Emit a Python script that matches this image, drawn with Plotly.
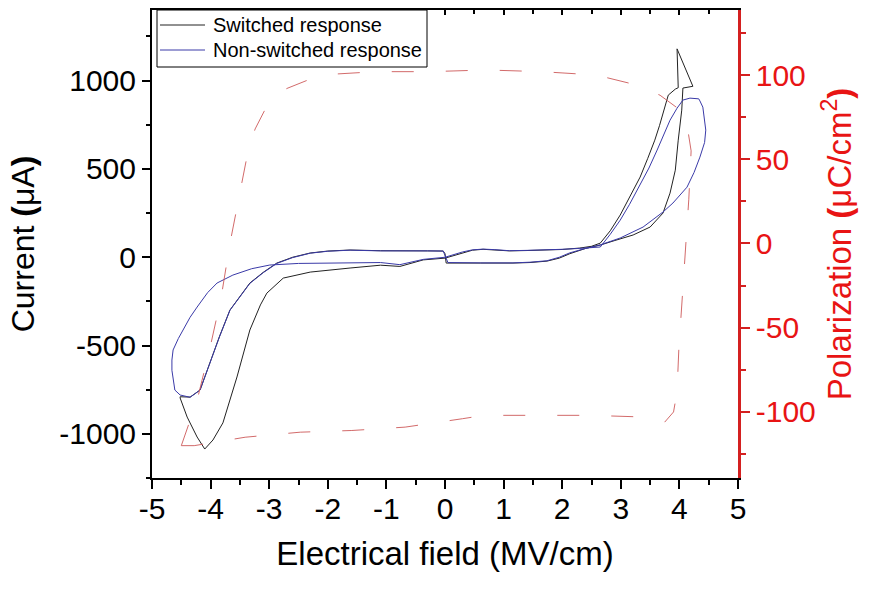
import plotly.graph_objects as go

# ---------------- data ----------------
# Switched response (black): E in MV/cm, I in uA
sw_E = [0.00, 0.10, 0.30, 0.47, 0.65, 0.85, 1.10, 1.40, 1.70, 2.00, 2.30, 2.50,
        2.65, 2.82, 2.99, 3.15, 3.33, 3.46, 3.58, 3.66, 3.72, 3.81, 3.93, 3.98,
        3.96, 4.23, 4.06,
        4.04, 3.98, 3.93, 3.84, 3.72, 3.50, 3.21, 2.90, 2.65, 2.40, 2.13, 1.95, 1.74, 1.45, 1.16, 0.60, 0.20, 0.02,
        0.00, -0.03,
        -0.30, -0.70, -1.10, -1.62, -2.00, -2.30, -2.60, -2.87, -3.10, -3.33, -3.50, -3.67, -3.85, -4.01, -4.18, -4.35, -4.52,
        -4.52, -4.40, -4.23, -4.10, -3.96, -3.79, -3.55, -3.33, -3.15, -3.04, -2.76, -2.30, -1.62, -1.10, -0.77, -0.37, 0.00]
sw_I = [-5, 5, 25, 40, 45, 42, 36, 38, 40, 44, 52, 62,
        80, 150, 239, 340, 454, 560, 663, 745, 816, 918, 952, 960,
        1180, 968, 958,
        833, 663, 493, 363, 250, 171, 126, 95, 69, 50, 20, -5, -22, -30, -33, -33, -35, -33,
        20, 35,
        36, 35, 37, 41, 35, 24, 0, -33, -85, -146, -220, -299, -450, -599, -752, -792, -790,
        -797, -905, -1018, -1086, -1035, -938, -678, -412, -270, -203, -118, -84, -61, -45, -52, -15, -5]

# Non-switched response (blue)
ns_E = [0.00, 0.10, 0.30, 0.47, 0.65, 0.85, 1.10, 1.40, 1.70, 2.00, 2.30, 2.50,
        2.65, 2.82, 2.99, 3.15, 3.33, 3.48, 3.62, 3.74, 3.84, 3.96, 4.06, 4.18, 4.33,
        4.35, 4.40, 4.45, 4.43, 4.35, 4.25, 4.13, 3.89, 3.72, 3.38, 2.99, 2.65, 2.40, 2.13, 1.95, 1.74, 1.45, 1.16, 0.60, 0.20, 0.05,
        0.00, -0.03,
        -0.30, -0.70, -1.10, -1.62, -2.00, -2.30, -2.60, -2.87, -3.10, -3.33, -3.50, -3.67, -3.85, -4.01, -4.18, -4.35, -4.52,
        -4.61, -4.66, -4.66, -4.64, -4.55, -4.47, -4.35, -4.23, -4.05, -3.89, -3.62, -3.30, -2.99, -2.50, -2.18, -1.62, -1.10, -0.77, -0.37, 0.00]
ns_I = [0, 10, 30, 42, 46, 43, 37, 39, 41, 45, 50, 55,
        58, 130, 210, 300, 408, 505, 607, 700, 776, 844, 890, 901, 897,
        885, 850, 720, 650, 567, 480, 397, 307, 256, 171, 109, 70, 50, 25, 0, -20, -28, -32, -32, -33, -30,
        10, 35,
        36, 34, 36, 40, 34, 23, -2, -35, -87, -148, -222, -300, -452, -600, -752, -793, -780,
        -752, -640, -582, -525, -460, -412, -340, -282, -200, -146, -101, -65, -44, -35, -33, -33, -30, -42, -12, 0]

# Polarization loop (red dashed, right axis): E in MV/cm, P in uC/cm^2
pol_E = [-4.50, -4.23, -4.01, -3.82, -3.67, -3.50, -3.36, -3.24, -2.99, -2.70, -2.27, -1.91,
         -1.18, -0.26, 0.70, 1.65, 2.58, 3.28, 3.67, 4.10, 4.20, 4.16, 4.10, 4.04, 3.99,
         3.96, 3.90, 3.75, 3.40, 2.47, 1.57, 0.67, 0.30, -0.30, -0.68, -1.59, -2.47, -3.41, -4.28, -4.50]
pol_P = [-120, -93, -62, -32, 0, 31, 55, 68, 85, 92, 98, 100.5,
         102, 102, 103, 102, 100, 94, 88, 77, 55, 26, -4, -33, -63,
         -88, -100, -106, -103, -102, -102, -102, -104, -107, -109, -111, -112, -115, -120, -120]

# tick labels
x_ticks = [-5, -4, -3, -2, -1, 0, 1, 2, 3, 4, 5]
x_ticktext = ["-5", "-4", "-3", "-2", "-1", "0", "1", "2", "3", "4", "5"]
y_ticks = [-1000, -500, 0, 500, 1000]
y_ticktext = ["-1000", "-500", "0", "500", "1000"]
y2_ticks = [-100, -50, 0, 50, 100]
y2_ticktext = ["-100", "-50", "0", "50", "100"]

sw_name = "Switched response"
ns_name = "Non-switched response"

# ---------------- figure ----------------
RED_LINE = "#d42020"
RED_TEXT = "#e81414"
SW_COLOR = "#222222"
NS_COLOR = "#3a3aa8"
FONT = "Liberation Sans, Arial, sans-serif"

W, H = 873, 589
ML, MR, MT, MB = 152, 135, 10, 111
PW, PH = W - ML - MR, H - MT - MB


def px(xp):
    return (xp - ML) / PW


def py(yp):
    return (H - MB - yp) / PH


fig = go.Figure()
fig.add_trace(go.Scatter(x=pol_E, y=pol_P, mode="lines", xaxis="x3", yaxis="y2",
                         line=dict(color="rgba(205,90,90,0.9)", width=1, dash="22px,32px"),
                         showlegend=False, hoverinfo="skip"))
fig.add_trace(go.Scatter(x=sw_E, y=sw_I, mode="lines", name=sw_name,
                         line=dict(color=SW_COLOR, width=1), showlegend=False))
fig.add_trace(go.Scatter(x=ns_E, y=ns_I, mode="lines", name=ns_name,
                         line=dict(color=NS_COLOR, width=1), showlegend=False))

# custom legend box (paper coordinates)
shapes = [
    dict(type="rect", xref="paper", yref="paper", x0=px(157), x1=px(427), y0=py(67), y1=py(10),
         line=dict(color="black", width=1), fillcolor="white", layer="above"),
    dict(type="line", xref="paper", yref="paper", x0=px(160), x1=px(205), y0=py(25), y1=py(25),
         line=dict(color=SW_COLOR, width=1), layer="above"),
    dict(type="line", xref="paper", yref="paper", x0=px(160), x1=px(205), y0=py(50), y1=py(50),
         line=dict(color=NS_COLOR, width=1), layer="above"),
]
annotations = [
    dict(text=sw_name, xref="paper", yref="paper", x=px(211), y=py(25), xanchor="left",
         yanchor="middle", showarrow=False, font=dict(size=20, color="black")),
    dict(text=ns_name, xref="paper", yref="paper", x=px(211), y=py(50), xanchor="left",
         yanchor="middle", showarrow=False, font=dict(size=20, color="black")),
]

fig.update_layout(
    width=W, height=H, autosize=False,
    margin=dict(l=ML, r=MR, t=MT, b=MB),
    paper_bgcolor="white", plot_bgcolor="white",
    font=dict(family=FONT, color="black"),
    showlegend=False,
    shapes=shapes, annotations=annotations,
    xaxis=dict(range=[-5, 5], tickvals=x_ticks, ticktext=x_ticktext, ticks="outside", ticklen=9,
               tickwidth=1.5, tickcolor="black", showline=True, linecolor="black", linewidth=2,
               showgrid=False, zeroline=False, tickfont=dict(size=30), ticklabelstandoff=-6,
               minor=dict(dtick=0.5, tick0=0, ticks="outside", ticklen=5, tickwidth=1.5, tickcolor="black"),
               title=dict(text="Electrical field (MV/cm)", font=dict(size=33), standoff=18)),
    xaxis3=dict(range=[-5, 5], overlaying="x", side="top", anchor="y", tick0=0, dtick=1,
                ticks="inside", ticklen=5, tickwidth=1.5, tickcolor="black", showticklabels=False,
                showline=True, linecolor="black", linewidth=2, showgrid=False, zeroline=False,
                minor=dict(dtick=0.5, ticks="inside", ticklen=4, tickwidth=1.5, tickcolor="black")),
    yaxis=dict(range=[-1250, 1400], tickvals=y_ticks, ticktext=y_ticktext, ticks="outside", ticklen=8,
               tickwidth=1.5, tickcolor="black", showline=True, linecolor="black", linewidth=2,
               showgrid=False, zeroline=False, tickfont=dict(size=30),
               minor=dict(dtick=250, tick0=0, ticks="outside", ticklen=4, tickwidth=1.5, tickcolor="black"),
               title=dict(text="Current <b>(</b>μA<b>)</b>", font=dict(size=32), standoff=15)),
    yaxis2=dict(range=[-139.2, 138.6], overlaying="y", side="right", anchor="x3",
                tickvals=y2_ticks, ticktext=y2_ticktext,
                ticks="outside", ticklen=9, tickwidth=1.5, tickcolor=RED_LINE,
                showline=True, linecolor=RED_LINE, linewidth=2.5, showgrid=False, zeroline=False,
                tickfont=dict(size=30, color=RED_TEXT),
                minor=dict(dtick=25, tick0=0, ticks="outside", ticklen=5, tickwidth=1.5, tickcolor=RED_LINE),
                title=dict(text="Polarization <b>(</b>μC/cm<sup>2</sup><b>)</b>",
                           font=dict(size=33, color=RED_TEXT), standoff=12)),
)

fig.write_html("out.html")
